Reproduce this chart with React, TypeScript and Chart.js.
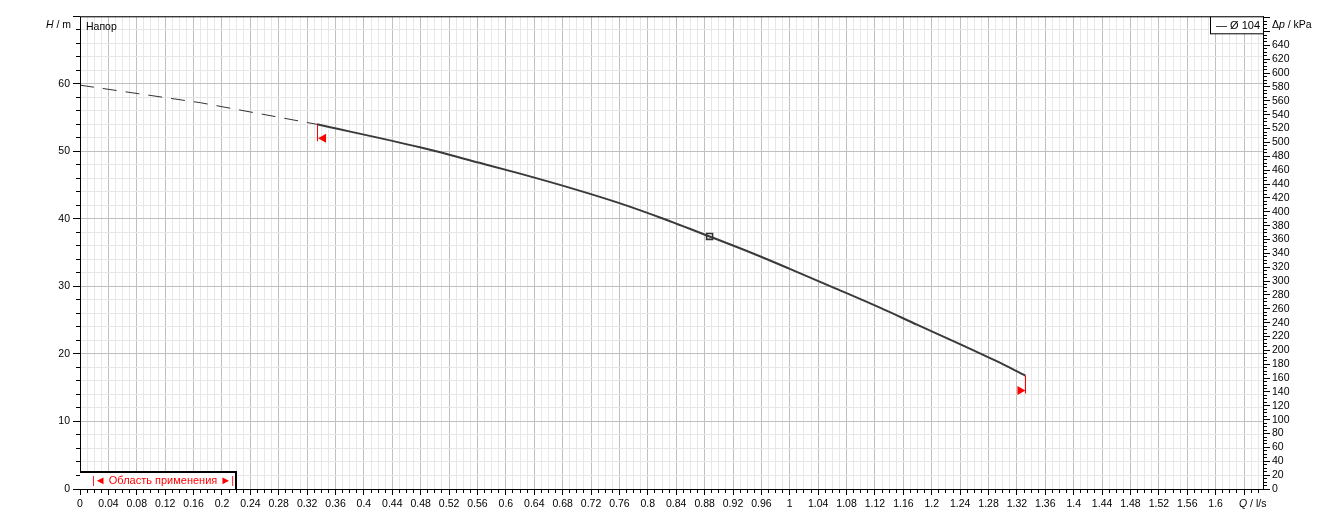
import React, { useEffect, useRef } from "react";
import { Chart, registerables } from "chart.js";

Chart.register(...registerables);

// ---- data ----
const FLOW_SOLID = [0.334, 0.479, 0.563, 0.62, 0.7, 0.761, 0.82, 0.887, 0.95, 1.0, 1.06, 1.127, 1.18, 1.239, 1.29, 1.332];
const HEAD_SOLID = [54.0, 50.6, 48.3, 46.7, 44.3, 42.3, 40.1, 37.4, 34.8, 32.6, 29.9, 26.85, 24.3, 21.5, 19.0, 16.8];
const FLOW_DASH = [0, 0.17, 0.334];
const HEAD_DASH = [59.8, 57.2, 54.0];
const DUTY_FLOW = [0.887];
const DUTY_HEAD = [37.4];

const X_MAX = 1.6667;
const H_MAX = 70;
const KPA_MAX = 682;
const X_TICK_COUNT = 166; // ticks every 0.01
const H_TICKS = Array.from({ length: 36 }, (_, i) => i * 2);
const KPA_TICKS = Array.from({ length: 137 }, (_, i) => i * 5);

const LEGEND_LABEL = "— Ø 104";
const RANGE_LABEL = "|◄ Область применения ►|";
const SERIES_TITLE = "Напор";

const FONT = '"Liberation Sans", Arial, sans-serif';
const MINOR = "#e7e7e7";
const MAJOR = "#c0c0c0";

const align = (p: number) => Math.round(p - 0.5) + 0.5;

const overlay = {
  id: "overlay",
  afterDatasetsDraw(chart: any) {
    const { ctx, scales } = chart;
    const xs = scales.x;
    const ys = scales.y;
    ctx.save();
    ctx.strokeStyle = "#ff0000";
    ctx.fillStyle = "#ff0000";
    ctx.lineWidth = 1;
    // start of range
    const x0 = xs.getPixelForValue(FLOW_SOLID[0]);
    const y0 = ys.getPixelForValue(HEAD_SOLID[0]);
    ctx.beginPath();
    ctx.moveTo(align(x0), y0);
    ctx.lineTo(align(x0), y0 + 17);
    ctx.stroke();
    ctx.beginPath();
    ctx.moveTo(x0 + 1, y0 + 14);
    ctx.lineTo(x0 + 9, y0 + 9.5);
    ctx.lineTo(x0 + 9, y0 + 18.5);
    ctx.closePath();
    ctx.fill();
    // end of range
    const n = FLOW_SOLID.length - 1;
    const x1 = xs.getPixelForValue(FLOW_SOLID[n]);
    const y1 = ys.getPixelForValue(HEAD_SOLID[n]);
    ctx.beginPath();
    ctx.moveTo(align(x1), y1);
    ctx.lineTo(align(x1), y1 + 18);
    ctx.stroke();
    ctx.beginPath();
    ctx.moveTo(x1, y1 + 15);
    ctx.lineTo(x1 - 8, y1 + 10.5);
    ctx.lineTo(x1 - 8, y1 + 19.5);
    ctx.closePath();
    ctx.fill();
    ctx.restore();
  },
  afterDraw(chart: any) {
    const { ctx, chartArea: ca, scales } = chart;
    ctx.save();
    ctx.strokeStyle = "#000";
    ctx.lineWidth = 1;
    // frame
    ctx.strokeRect(ca.left + 0.5, ca.top + 0.5, ca.right - ca.left, ca.bottom - ca.top);
    // x tick marks
    ctx.beginPath();
    for (const t of scales.x.ticks) {
      const i = Math.round(t.value * 100);
      const px = align(scales.x.getPixelForValue(t.value));
      const len = i % 4 === 0 ? 5 : 3;
      ctx.moveTo(px, ca.bottom + 1);
      ctx.lineTo(px, ca.bottom + 1 + len);
    }
    // left y tick marks
    for (const t of scales.y.ticks) {
      const py = align(scales.y.getPixelForValue(t.value));
      const len = t.value % 10 === 0 ? 7 : 4;
      ctx.moveTo(ca.left, py);
      ctx.lineTo(ca.left - len, py);
    }
    // right y tick marks
    for (const t of scales.y2.ticks) {
      const py = align(scales.y2.getPixelForValue(t.value));
      const len = t.value % 20 === 0 ? 6 : 3;
      ctx.moveTo(ca.right + 1, py);
      ctx.lineTo(ca.right + 1 + len, py);
    }
    ctx.stroke();

    // axis titles
    ctx.fillStyle = "#000";
    ctx.textBaseline = "middle";
    // H / m
    ctx.textAlign = "right";
    ctx.font = `10.5px ${FONT}`;
    const hRest = " / m";
    const wRest = ctx.measureText(hRest).width;
    ctx.fillText(hRest, ca.left - 9, 25);
    ctx.font = `italic 10.5px ${FONT}`;
    ctx.fillText("H", ca.left - 9 - wRest, 25);
    // Δp / kPa
    ctx.textAlign = "left";
    ctx.font = `10.5px ${FONT}`;
    let xx = ca.right + 9;
    ctx.fillText("Δ", xx, 25);
    xx += ctx.measureText("Δ").width;
    ctx.font = `italic 10.5px ${FONT}`;
    ctx.fillText("p", xx, 25);
    xx += ctx.measureText("p").width;
    ctx.font = `10.5px ${FONT}`;
    ctx.fillText(" / kPa", xx, 25);
    // Q / l/s
    xx = 1239;
    ctx.font = `italic 10.5px ${FONT}`;
    ctx.fillText("Q", xx, 504);
    xx += ctx.measureText("Q").width;
    ctx.font = `10.5px ${FONT}`;
    ctx.fillText(" / l/s", xx, 504);
    // series title
    ctx.fillText(SERIES_TITLE, ca.left + 6, 27);

    // top-right legend box
    ctx.fillStyle = "#fff";
    ctx.fillRect(1210, ca.top, ca.right - 1210, 17);
    ctx.strokeStyle = "#000";
    ctx.lineWidth = 1;
    ctx.strokeRect(1210.5, ca.top + 0.5, ca.right - 1210, 17);
    ctx.fillStyle = "#000";
    ctx.font = `11px ${FONT}`;
    ctx.textAlign = "right";
    ctx.fillText(LEGEND_LABEL, ca.right - 3, ca.top + 9.5);

    // bottom-left range box
    ctx.fillStyle = "#fff";
    ctx.fillRect(ca.left, ca.bottom - 18, 157, 18);
    ctx.lineWidth = 2;
    ctx.beginPath();
    ctx.moveTo(ca.left, ca.bottom - 17);
    ctx.lineTo(ca.left + 156, ca.bottom - 17);
    ctx.lineTo(ca.left + 156, ca.bottom + 1);
    ctx.stroke();
    ctx.fillStyle = "#ff0000";
    ctx.textAlign = "left";
    ctx.font = `11px ${FONT}`;
    ctx.fillText(RANGE_LABEL, ca.left + 12, ca.bottom - 8);
    ctx.restore();
  },
};

export default function App() {
  const ref = useRef<HTMLCanvasElement | null>(null);
  useEffect(() => {
    const canvas = ref.current;
    if (!canvas) return;
    const tickFont = { family: FONT, size: 10.5 };
    const chart = new Chart(canvas, {
      type: "line",
      data: {
        datasets: [
          {
            data: FLOW_DASH.map((q, i) => ({ x: q, y: HEAD_DASH[i] })),
            borderColor: "#333333",
            borderWidth: 1,
            borderDash: [14, 9],
            pointRadius: 0,
            tension: 0,
            yAxisID: "y",
          },
          {
            data: FLOW_SOLID.map((q, i) => ({ x: q, y: HEAD_SOLID[i] })),
            borderColor: "#3a3a3a",
            borderWidth: 2,
            pointRadius: 0,
            cubicInterpolationMode: "monotone",
            yAxisID: "y",
          },
          {
            data: DUTY_FLOW.map((q, i) => ({ x: q, y: DUTY_HEAD[i] })),
            showLine: false,
            pointStyle: "rect",
            pointRadius: 4.2,
            pointBackgroundColor: "#ffffff",
            pointBorderColor: "#333333",
            pointBorderWidth: 1.6,
            yAxisID: "y",
          },
        ],
      },
      options: {
        animation: false,
        responsive: true,
        maintainAspectRatio: false,
        layout: { padding: { top: 16, left: 0, right: 0, bottom: 0 } },
        plugins: { legend: { display: false }, tooltip: { enabled: false } },
        events: [],
        scales: {
          x: {
            type: "linear",
            min: 0,
            max: X_MAX,
            afterBuildTicks: (s: any) => {
              s.ticks = Array.from({ length: X_TICK_COUNT + 1 }, (_, i) => ({ value: i / 100 }));
            },
            afterFit: (s: any) => {
              s.height = 33;
            },
            ticks: {
              autoSkip: false,
              maxRotation: 0,
              padding: 9,
              font: tickFont,
              color: "#000",
              callback: (v: any) => {
                const i = Math.round(Number(v) * 100);
                if (i % 4 !== 0 || i > 160) return "";
                return String(Number((i / 100).toFixed(2)));
              },
            },
            grid: {
              drawTicks: false,
              color: (c: any) => (Math.round(c.tick.value * 100) % 4 === 0 ? MAJOR : MINOR),
              lineWidth: 1,
            },
            border: { display: false },
          },
          y: {
            type: "linear",
            position: "left",
            min: 0,
            max: H_MAX,
            afterBuildTicks: (s: any) => {
              s.ticks = H_TICKS.map((v) => ({ value: v }));
            },
            afterFit: (s: any) => {
              s.width = 80;
            },
            ticks: {
              autoSkip: false,
              padding: 10,
              font: tickFont,
              color: "#000",
              callback: (v: any) => (Number(v) % 10 === 0 && Number(v) <= 60 ? String(v) : ""),
            },
            grid: {
              drawTicks: false,
              color: (c: any) => (c.tick.value % 10 === 0 ? MAJOR : MINOR),
              lineWidth: 1,
            },
            border: { display: false },
          },
          y2: {
            type: "linear",
            position: "right",
            min: 0,
            max: KPA_MAX,
            afterBuildTicks: (s: any) => {
              s.ticks = KPA_TICKS.map((v) => ({ value: v }));
            },
            afterFit: (s: any) => {
              s.width = 81;
            },
            ticks: {
              autoSkip: false,
              padding: 9,
              font: tickFont,
              color: "#000",
              callback: (v: any) => (Number(v) % 20 === 0 && Number(v) <= 640 ? String(v) : ""),
            },
            grid: { drawOnChartArea: false, drawTicks: false },
            border: { display: false },
          },
        },
      },
      plugins: [overlay],
    } as any);
    return () => chart.destroy();
  }, []);
  return (
    <div style={{ position: "fixed", left: 0, top: 0, width: 1344, height: 522, background: "#fff" }}>
      <canvas ref={ref} />
    </div>
  );
}
